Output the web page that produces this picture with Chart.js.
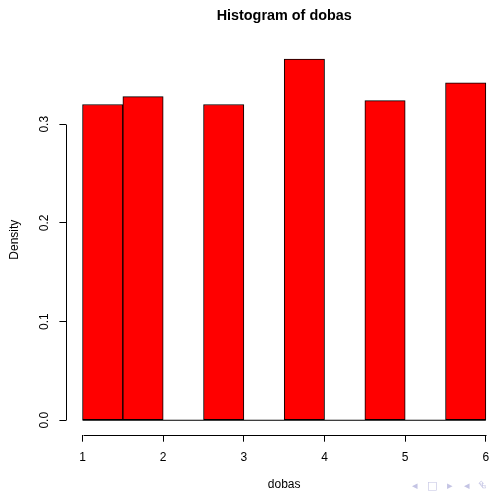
<!DOCTYPE html>
<html>
<head>
<meta charset="utf-8">
<script src="https://cdn.jsdelivr.net/npm/chart.js@4/dist/chart.umd.min.js"></script>
<style>
  html, body { margin: 0; padding: 0; background: #fff; overflow: hidden; }
  #wrap { width: 510px; height: 494px; }
</style>
</head>
<body>
<div id="wrap"><canvas id="hist" width="510" height="494"></canvas></div>
<script>
// datos del histograma (bins de 0.5)
const binMids = [1.25, 1.75, 2.25, 2.75, 3.25, 3.75, 4.25, 4.75, 5.25, 5.75];
const densidad = [0.320, 0.328, 0, 0.320, 0, 0.366, 0, 0.324, 0, 0.342];
const xTicks = [1, 2, 3, 4, 5, 6];
const yTicks = [0, 0.1, 0.2, 0.3];
const titulo = 'Histogram of dobas';
const xLabel = 'dobas';
const yLabel = 'Density';

const FONT = "'Liberation Sans', Arial, Helvetica, sans-serif";

// rango como R: 4% extra a cada lado
const xMin = 1, xMax = 6;
const yTop = Math.max(...densidad);
const xPad = (xMax - xMin) * 0.04, yPad = yTop * 0.04;

// ejes al estilo R (solo del primer al ultimo tick)
const ejesR = {
    id: 'ejesR',
    afterDraw(chart) {
        const ctx = chart.ctx;
        const x = chart.scales.x, y = chart.scales.y;
        const area = chart.chartArea;
        ctx.save();
        ctx.strokeStyle = '#000';
        ctx.lineWidth = 1;
        ctx.beginPath();
        const lx = Math.round(area.left) + 0.5;
        ctx.moveTo(lx, Math.round(y.getPixelForValue(yTicks[0])) + 0.5);
        ctx.lineTo(lx, Math.round(y.getPixelForValue(yTicks[yTicks.length - 1])) + 0.5);
        const by = Math.round(area.bottom) + 0.5;
        ctx.moveTo(Math.round(x.getPixelForValue(xTicks[0])) + 0.5, by);
        ctx.lineTo(Math.round(x.getPixelForValue(xTicks[xTicks.length - 1])) + 0.5, by);
        ctx.stroke();
        // simbolos de navegacion (beamer)
        ctx.fillStyle = '#c4c4e4';
        ctx.font = "11px 'DejaVu Sans'";
        ctx.textBaseline = 'middle';
        ctx.fillText('\u25C2', 412, 486);
        ctx.fillText('\u25A1', 427, 486);
        ctx.fillText('\u25B8', 447, 486);
        ctx.fillText('\u25C2', 464, 486);
        ctx.fillText('\u2BB4', 478, 485);
        ctx.restore();
    }
};

new Chart(document.getElementById('hist'), {
    type: 'bar',
    data: {
        datasets: [{
            type: 'line',
            data: [{ x: xMin, y: 0 }, { x: xMax, y: 0 }],
            borderColor: '#000',
            borderWidth: 1,
            pointRadius: 0,
            order: 2
        }, {
            data: binMids.map((m, i) => ({ x: m, y: densidad[i] })),
            backgroundColor: '#ff0000',
            borderColor: '#000',
            borderWidth: 1,
            borderSkipped: false,
            barPercentage: 1,
            categoryPercentage: 1,
            order: 1
        }]
    },
    options: {
        responsive: false,
        animation: false,
        events: [],
        layout: { padding: { left: 0, right: 8, top: 0, bottom: 0 } },
        plugins: {
            legend: { display: false },
            tooltip: { enabled: false },
            title: { display: false }
        },
        scales: {
            x: {
                type: 'linear',
                position: 'bottom',
                min: xMin - xPad,
                max: xMax + xPad,
                offset: false,
                afterBuildTicks: s => { s.ticks = xTicks.map(v => ({ value: v })); },
                afterFit: s => { s.height = 59.3; },
                grid: { drawOnChartArea: false, offset: false, tickLength: 7, color: '#000', tickColor: '#000' },
                border: { display: false },
                ticks: { color: '#000', padding: 9, maxRotation: 0, font: { family: FONT, size: 12 }, callback: v => String(v) },
                title: { display: true, text: xLabel, color: '#000', padding: { top: 0, bottom: 2 }, font: { family: FONT, size: 12 } }
            },
            top: {
                type: 'linear',
                position: 'top',
                axis: 'x',
                min: 0, max: 1,
                afterFit: s => { s.height = 44.7; },
                grid: { display: false },
                border: { display: false },
                ticks: { display: false },
                title: { display: true, text: titulo, color: '#000', padding: { top: 7, bottom: 0 }, font: { family: FONT, size: 14.4, weight: 'bold' } }
            },
            y: {
                type: 'linear',
                position: 'left',
                min: -yPad,
                max: yTop + yPad,
                afterBuildTicks: s => { s.ticks = yTicks.map(v => ({ value: v })); },
                afterFit: s => { s.width = 66.4; },
                grid: { drawOnChartArea: false, tickLength: 7, color: '#000', tickColor: '#000' },
                border: { display: false },
                ticks: { color: '#000', padding: 6, minRotation: 90, maxRotation: 90, crossAlign: 'center', font: { family: FONT, size: 12 }, callback: v => v.toFixed(1) },
                title: { display: true, text: yLabel, color: '#000', padding: { top: 7, bottom: 0 }, font: { family: FONT, size: 12 } }
            }
        }
    },
    plugins: [ejesR]
});
</script>
</body>
</html>
